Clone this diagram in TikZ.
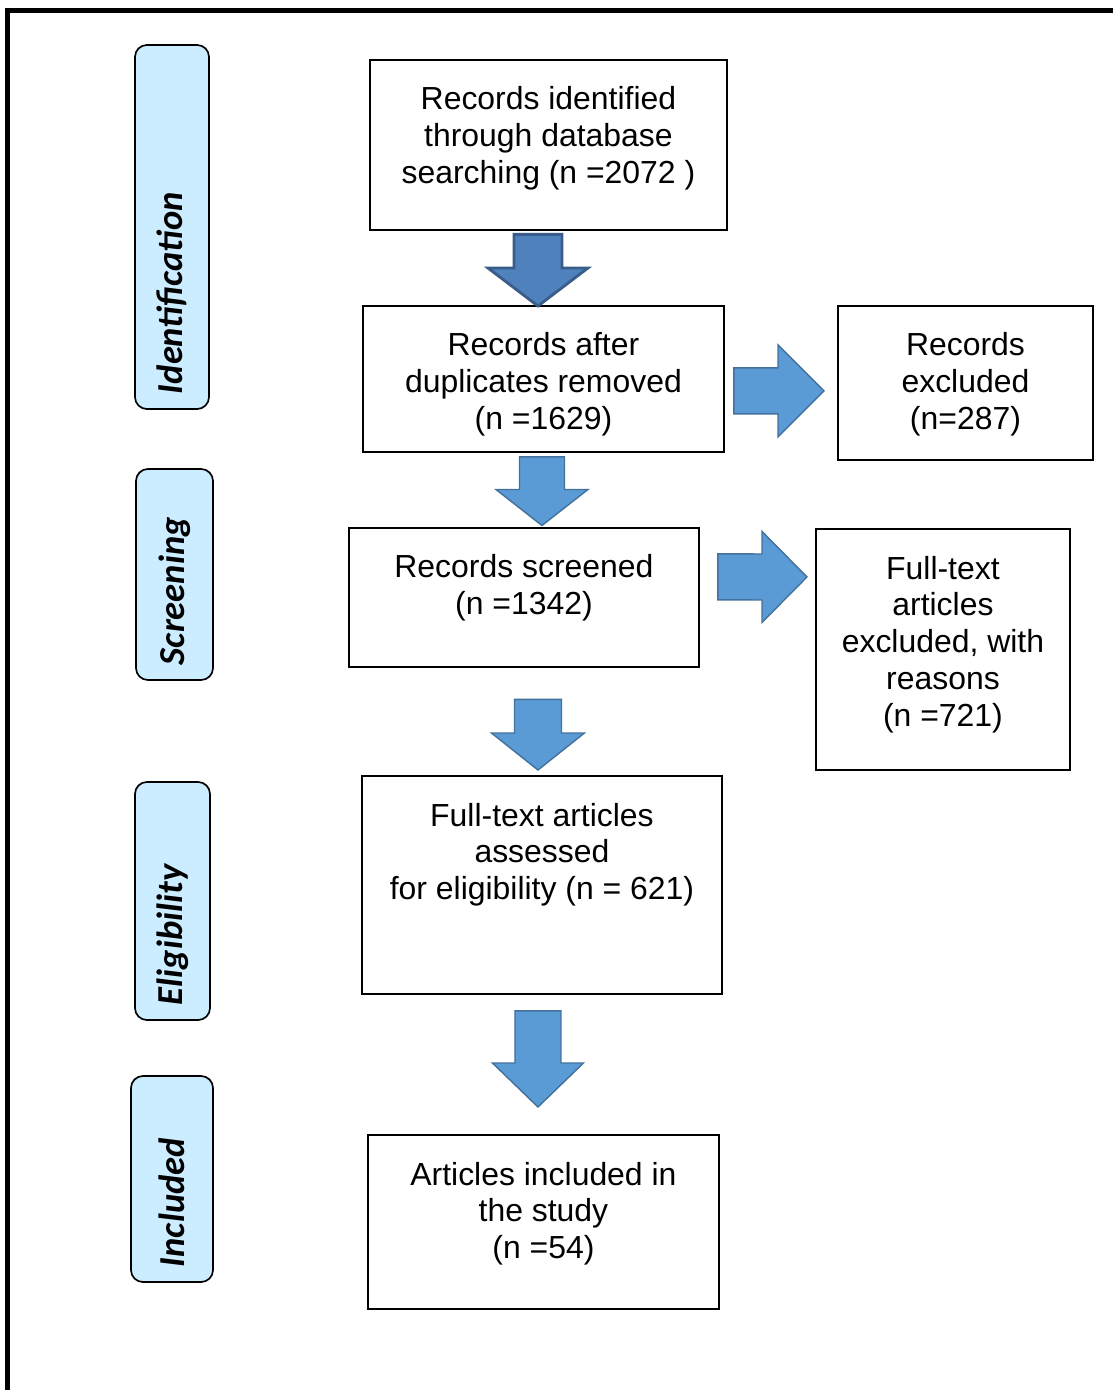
\documentclass[tikz,border=0pt]{standalone}
\usepackage{fontspec}
\setmainfont{Liberation Sans}
\newfontfamily\stagefont{Carlito}
\usetikzlibrary{calc}
\definecolor{stagefill}{HTML}{CCECFF}
\definecolor{arrowfill}{HTML}{5B9BD5}
\definecolor{arrowline}{HTML}{41719C}
\definecolor{firstfill}{HTML}{4F81BD}
\definecolor{firstline}{HTML}{385D8A}
\newdimen\pxu \pxu=0.71132pt
% box text: width, height (px), lines
\newcommand{\boxtext}[3]{\parbox[c][#2\pxu][t]{#1\pxu}{\centering\vspace*{17.2pt}\strut#3}}
% block arrows: [style]{start}{tip}{shaft half}{head half}{head length}
\newcommand{\blockdown}[6][blk]{%
  \draw[#1] ($#2+(-#4,0)$) -- ($#2+(#4,0)$) -- ($#3+(#4,-#6)$) -- ($#3+(#5,-#6)$) -- #3
    -- ($#3+(-#5,-#6)$) -- ($#3+(-#4,-#6)$) -- cycle;}
\newcommand{\blockright}[6][blk]{%
  \draw[#1] ($#2+(0,-#4)$) -- ($#2+(0,#4)$) -- ($#3+(-#6,#4)$) -- ($#3+(-#6,#5)$) -- #3
    -- ($#3+(-#6,-#5)$) -- ($#3+(-#6,-#4)$) -- cycle;}
\tikzset{recbox/.style={draw,line width=1.3pt,inner sep=0pt,anchor=north west,
    font=\fontsize{22.7}{26.3}\selectfont},
  stage/.style={draw,line width=1.2pt,fill=stagefill,rounded corners=0.3cm,rotate=90,
    inner xsep=0.375cm,inner ysep=0pt,align=left,
    font={\stagefont\fontsize{26}{30}\selectfont\bfseries\itshape}},
  blk/.style={fill=arrowfill,draw=arrowline,line width=1pt},
  blkfirst/.style={fill=firstfill,draw=firstline,line width=2pt}}

\begin{document}
\begin{tikzpicture}[x=0.025cm,y=-0.025cm,line join=miter]
\useasboundingbox (0,0) rectangle (1113,1390);
% --- frame (top and left only)
\draw[line width=3.4pt] (7.5,1390) -- (7.5,10.5) -- (1113,10.5);
% --- stage labels
\node[stage,minimum width=9.1cm,minimum height=1.85cm,text width=8.35cm] (sid) at (172,227) {Identification};
\node[stage,minimum width=5.275cm,minimum height=1.925cm,text width=4.525cm] (sscr) at (174.5,574.5) {Screening};
\node[stage,minimum width=5.95cm,minimum height=1.875cm,text width=5.2cm] (selig) at (172.5,901) {Eligibility};
\node[stage,minimum width=5.15cm,minimum height=2.05cm,text width=4.4cm] (sincl) at (172,1179) {Included};
% --- boxes
\node[recbox] (rid) at (369,59) {\boxtext{357}{170}{Records identified\\through database\\searching (n =2072 )}};
\node[recbox] (rdup) at (362,305) {\boxtext{361}{146}{Records after\\duplicates removed\\(n =1629)}};
\node[recbox] (rexc) at (837,305) {\boxtext{255}{154}{Records\\excluded\\(n=287)}};
\node[recbox] (rscr) at (348,527) {\boxtext{350}{139}{Records screened\\(n =1342)}};
\node[recbox] (ftexc) at (815,528) {\boxtext{254}{241}{Full-text\\articles\\excluded, with\\reasons\\(n =721)}};
\node[recbox] (ftass) at (361,775) {\boxtext{360}{218}{Full-text articles\\assessed\\for eligibility (n = 621)}};
\node[recbox] (incl) at (367,1134) {\boxtext{351}{174}{Articles included in\\the study\\(n =54)}};
% --- block arrows
\coordinate (a1top) at ($(rid.south)+(-10.5,3.5)$);
\coordinate (a1tip) at ($(rdup.north)+(-5.5,1)$);
\coordinate (a2top) at ($(rdup.south)+(-1.5,4)$);
\coordinate (a2tip) at ($(rscr.north)+(18,-1.5)$);
\coordinate (a3top) at ($(rscr.south)+(14,31.5)$);
\coordinate (a3tip) at ($(ftass.north)+(-4,-5)$);
\coordinate (a4top) at ($(ftass.south)+(-4,16)$);
\coordinate (a4tip) at ($(incl.north)+(-5.5,-27)$);
\coordinate (r1start) at ($(rdup.east)+(9,12)$);
\coordinate (r1tip) at ($(rexc.west)+(-13,8)$);
\coordinate (r2start) at ($(rscr.east)+(18,-20.5)$);
\coordinate (r2tip) at ($(ftexc.west)+(-8,-72.5)$);
\blockdown[blkfirst]{(a1top)}{(a1tip)}{24}{50}{38}
\blockdown{(a2top)}{(a2tip)}{22.5}{46}{36}
\blockdown{(a3top)}{(a3tip)}{23.5}{46.5}{37}
\blockdown{(a4top)}{(a4tip)}{23}{45.5}{44}
\blockright{(r1start)}{(r1tip)}{23}{46}{46}
\blockright{(r2start)}{(r2tip)}{23}{45.5}{45}
\end{tikzpicture}
\end{document}
